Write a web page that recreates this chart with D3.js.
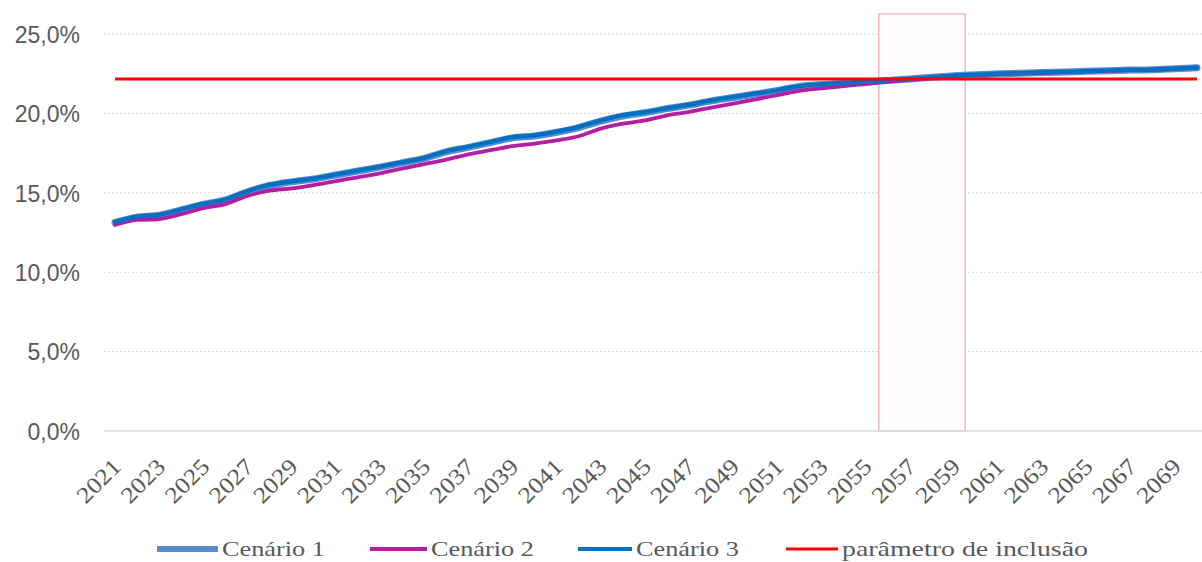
<!DOCTYPE html>
<html>
<head>
<meta charset="utf-8">
<script src="https://cdn.jsdelivr.net/npm/d3@7"></script>
<style>
  html, body { margin: 0; padding: 0; background: #fff; }
  svg { display: block; }
</style>
</head>
<body>
<svg id="chart" width="1202" height="562"></svg>
<script>
const years = d3.range(2021, 2071);
const yTicks = [0, 5, 10, 15, 20, 25];
const xTickYears = years.filter((d, i) => i % 2 === 0);

const cenario1 = [13.13, 13.46, 13.59, 13.92, 14.27, 14.55, 15.06, 15.46, 15.69, 15.87,
  16.12, 16.37, 16.62, 16.89, 17.17, 17.58, 17.86, 18.16, 18.46, 18.58,
  18.81, 19.11, 19.51, 19.84, 20.04, 20.3, 20.52, 20.79, 21.0, 21.22,
  21.44, 21.7, 21.82, 21.9, 21.98, 22.07, 22.17, 22.27, 22.37, 22.43,
  22.49, 22.53, 22.57, 22.61, 22.65, 22.69, 22.73, 22.75, 22.81, 22.87];
const cenario2 = [12.97, 13.29, 13.35, 13.66, 14.04, 14.29, 14.8, 15.13, 15.28, 15.49,
  15.74, 15.97, 16.22, 16.52, 16.8, 17.09, 17.42, 17.68, 17.94, 18.1,
  18.3, 18.56, 19.04, 19.35, 19.56, 19.88, 20.1, 20.37, 20.62, 20.88,
  21.15, 21.42, 21.58, 21.72, 21.85, 22.0, 22.12, 22.24, 22.35, 22.42,
  22.48, 22.52, 22.56, 22.6, 22.64, 22.68, 22.72, 22.74, 22.8, 22.86];
const cenario3 = [13.16, 13.5, 13.62, 13.95, 14.3, 14.58, 15.1, 15.5, 15.72, 15.9,
  16.15, 16.4, 16.65, 16.92, 17.2, 17.62, 17.9, 18.2, 18.5, 18.62,
  18.85, 19.15, 19.55, 19.88, 20.08, 20.33, 20.55, 20.82, 21.03, 21.25,
  21.46, 21.72, 21.84, 21.92, 22.0, 22.08, 22.18, 22.28, 22.38, 22.44,
  22.5, 22.54, 22.58, 22.62, 22.66, 22.7, 22.74, 22.76, 22.82, 22.88];
const parametro = 22.17;
const highlightYears = [2056, 2059];

const seriesNames = ["Cenário 1", "Cenário 2", "Cenário 3", "parâmetro de inclusão"];
const seriesColors = ["#5a8ad0", "#b41ea0", "#0070c0", "#ff0000"];
const seriesWidths = [7, 3.8, 4.2, 3];

const svg = d3.select("#chart");

const x = d3.scalePoint().domain(years).range([115, 1197]);
const y = d3.scaleLinear().domain([0, 25]).range([431, 34]);
const step = x.step();
const plotLeft = 104, plotRight = 1202;

// gridlines
svg.append("g").selectAll("line")
  .data(yTicks.filter(d => d > 0))
  .join("line")
  .attr("x1", plotLeft).attr("x2", plotRight)
  .attr("y1", d => y(d)).attr("y2", d => y(d))
  .attr("stroke", "#d4d4d4").attr("stroke-width", 1)
  .attr("stroke-dasharray", "2,2");

// y axis labels
const yAxis = d3.axisLeft(y).tickValues(yTicks)
  .tickFormat(d => d3.format(".1f")(d).replace(".", ",") + "%")
  .tickSize(0).tickPadding(0);
const yg = svg.append("g").attr("transform", "translate(80,0)").call(yAxis);
yg.select(".domain").remove();
yg.selectAll("text")
  .attr("font-family", "'Liberation Sans', Arial, sans-serif")
  .attr("font-size", 23)
  .attr("fill", "#595959")
  .attr("dy", "0.36em");

// highlight rectangle
const hx0 = x(highlightYears[0]) - step / 2 + 2;
const hx1 = x(highlightYears[1]) + step / 2;
svg.append("rect")
  .attr("x", hx0).attr("y", y(25) - 20)
  .attr("width", hx1 - hx0).attr("height", y(0) - y(25) + 20)
  .attr("fill", "#fefefe").attr("stroke", "#f4a7a7").attr("stroke-width", 1.2);

// zero axis line
svg.append("line")
  .attr("x1", plotLeft).attr("x2", plotRight)
  .attr("y1", y(0)).attr("y2", y(0))
  .attr("stroke", "#d9d9d9").attr("stroke-width", 1.5);

// x axis
const xAxis = d3.axisBottom(x).tickValues(xTickYears).tickSize(0).tickPadding(0);
const xg = svg.append("g").attr("transform", `translate(0,${y(0)})`).call(xAxis);
xg.select(".domain").remove();
xg.selectAll("text")
  .attr("font-family", "'Liberation Serif', 'DejaVu Serif', serif")
  .attr("font-size", 23)
  .attr("fill", "#595959")
  .attr("text-anchor", "end")
  .attr("dy", 0)
  .attr("y", 0)
  .attr("transform", "translate(7,37) rotate(-45)")
  .attr("textLength", 52)
  .attr("lengthAdjust", "spacingAndGlyphs");

// lines
const line = d3.line().x((d, i) => x(years[i])).y(d => y(d)).curve(d3.curveMonotoneX);
const series = [cenario1, cenario2, cenario3];
series.forEach((s, k) => {
  svg.append("path").datum(s)
    .attr("d", line)
    .attr("fill", "none")
    .attr("stroke", seriesColors[k])
    .attr("stroke-width", seriesWidths[k])
    .attr("stroke-linejoin", "round")
    .attr("stroke-linecap", "round");
});
svg.append("path").datum(years.map(() => parametro))
  .attr("d", d3.line().x((d, i) => x(years[i])).y(d => y(d)))
  .attr("fill", "none")
  .attr("stroke", seriesColors[3])
  .attr("stroke-width", seriesWidths[3]);

// legend
const legendX = [157, 370, 578, 786];
const legendLen = [61, 57, 54, 52];
const legendTextW = [103, 103, 103, 246];
const ly = 549;
const lg = svg.append("g");
seriesNames.forEach((n, i) => {
  lg.append("line")
    .attr("x1", legendX[i]).attr("x2", legendX[i] + legendLen[i])
    .attr("y1", ly).attr("y2", ly)
    .attr("stroke", seriesColors[i])
    .attr("stroke-width", i === 0 ? 6 : (i === 3 ? 3 : 4));
  lg.append("text")
    .attr("x", legendX[i] + legendLen[i] + 4)
    .attr("y", ly + 7)
    .attr("font-family", "'Liberation Serif', 'DejaVu Serif', serif")
    .attr("font-size", 22)
    .attr("fill", "#595959")
    .attr("textLength", legendTextW[i])
    .attr("lengthAdjust", "spacingAndGlyphs")
    .text(n);
});
</script>
</body>
</html>
